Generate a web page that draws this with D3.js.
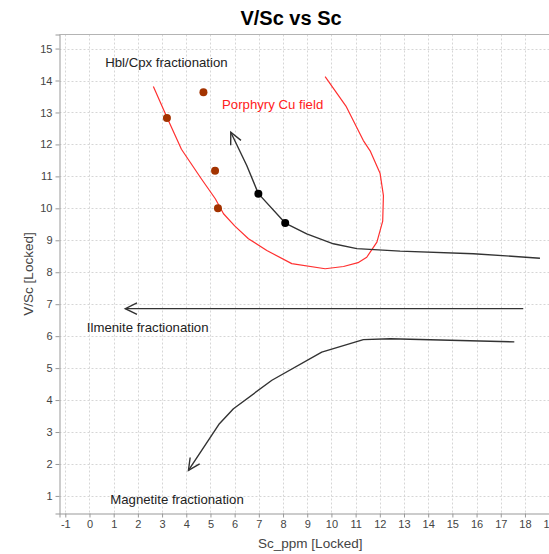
<!DOCTYPE html>
<html>
<head>
<meta charset="utf-8">
<script src="https://cdn.jsdelivr.net/npm/d3@7"></script>
<style>
  html, body { margin: 0; padding: 0; background: #fff; }
  svg { display: block; font-family: "Liberation Sans", Arial, sans-serif; }
</style>
</head>
<body>
<svg id="chart" width="549" height="554"></svg>
<script>
// Axis ticks
const xTicks = [-1, 0, 1, 2, 3, 4, 5, 6, 7, 8, 9, 10, 11, 12, 13, 14, 15, 16, 17, 18, 19];
const yTicks = [1, 2, 3, 4, 5, 6, 7, 8, 9, 10, 11, 12, 13, 14, 15];

// Porphyry Cu field outline (Sc, V/Sc)
const porphyryX = [2.64, 3.2, 3.8, 4.6, 5.2, 5.54, 6.0, 6.57, 7.33, 8.36, 9.74, 10.5, 11.1, 11.46, 11.88, 12.12, 12.15, 12.01, 11.6, 11.32, 10.6, 9.74];
const porphyryY = [13.81, 12.85, 11.85, 10.95, 10.3, 9.83, 9.45, 9.05, 8.68, 8.27, 8.11, 8.18, 8.3, 8.47, 8.94, 9.6, 10.4, 11.1, 11.8, 12.12, 13.2, 14.12];

// Hbl/Cpx fractionation trend (drawn from high Sc towards the arrow tip)
const hblX = [18.62, 15.87, 12.84, 11.05, 10.08, 8.98, 8.09, 6.98, 6.5, 5.84];
const hblY = [8.44, 8.58, 8.66, 8.74, 8.89, 9.2, 9.54, 10.46, 11.34, 12.38];

// Ilmenite fractionation trend
const ilmX = [17.93, 1.48];
const ilmY = [6.86, 6.86];

// Magnetite fractionation trend
const magX = [17.56, 12.43, 11.32, 9.6, 7.54, 5.95, 5.37, 4.09];
const magY = [5.82, 5.92, 5.89, 5.5, 4.62, 3.73, 3.26, 1.8];

// Samples
const blackX = [6.98, 8.09];
const blackY = [10.46, 9.54];
const brownX = [4.71, 3.2, 5.19, 5.31];
const brownY = [13.63, 12.83, 11.18, 10.0];

// Annotations (left edge, vertical centre in data units)
const noteText = ["Hbl/Cpx fractionation", "Porphyry Cu field", "Ilmenite fractionation", "Magnetite fractionation"];
const noteX = [0.65, 5.48, -0.11, 0.86];
const noteY = [14.56, 13.24, 6.27, 0.9];
const noteRed = [false, true, false, false];

const svg = d3.select("#chart");
const plot = { left: 59.5, top: 34.5, right: 561, bottom: 513.5 };

const x = d3.scaleLinear().domain([-1.24, 19.49]).range([plot.left, plot.right]);
const y = d3.scaleLinear().domain([0.45, 15.44]).range([plot.bottom, plot.top]);

// Title
svg.append("text")
  .attr("x", 291).attr("y", 25)
  .attr("text-anchor", "middle")
  .attr("font-size", 20).attr("font-weight", "bold")
  .attr("fill", "#000")
  .text("V/Sc vs Sc");

svg.append("defs").append("clipPath").attr("id", "plotclip")
  .append("rect")
  .attr("x", plot.left).attr("y", plot.top)
  .attr("width", plot.right - plot.left).attr("height", plot.bottom - plot.top);

// Grid
const grid = svg.append("g").attr("clip-path", "url(#plotclip)");
grid.selectAll("line.vx").data(xTicks).join("line")
  .attr("x1", d => Math.round(x(d)) + 0.5).attr("x2", d => Math.round(x(d)) + 0.5)
  .attr("y1", plot.top).attr("y2", plot.bottom)
  .attr("stroke", "#d6d6d6").attr("stroke-dasharray", "2,2").attr("stroke-width", 1);
grid.selectAll("line.hy").data(yTicks).join("line")
  .attr("y1", d => Math.round(y(d)) + 0.5).attr("y2", d => Math.round(y(d)) + 0.5)
  .attr("x1", plot.left).attr("x2", plot.right)
  .attr("stroke", "#d6d6d6").attr("stroke-dasharray", "2,2").attr("stroke-width", 1);

// Frame (top), axes
svg.append("line").attr("x1", plot.left).attr("x2", plot.right)
  .attr("y1", plot.top).attr("y2", plot.top).attr("stroke", "#b4b4b4");

const fmt = d => String(d);
const xAxis = d3.axisBottom(x).tickValues(xTicks).tickSize(4).tickPadding(3).tickFormat(fmt);
const gx = svg.append("g").attr("transform", `translate(0,${plot.bottom})`).call(xAxis);
const yAxis = d3.axisLeft(y).tickValues(yTicks).tickSize(4).tickPadding(3).tickFormat(fmt);
const gy = svg.append("g").attr("transform", `translate(${plot.left},0)`).call(yAxis);
[gx, gy].forEach(g => {
  g.select(".domain").attr("stroke", "#999");
  g.selectAll(".tick line").attr("stroke", "#999");
  g.selectAll(".tick text").attr("fill", "#444").attr("font-size", 11)
    .attr("font-family", "'Liberation Sans', Arial, sans-serif");
});

// Axis titles
svg.append("text")
  .attr("x", (plot.left + plot.right) / 2).attr("y", 548)
  .attr("text-anchor", "middle").attr("font-size", 13.5).attr("fill", "#444")
  .text("Sc_ppm [Locked]");
svg.append("text")
  .attr("transform", `translate(33,${(plot.top + plot.bottom) / 2}) rotate(-90)`)
  .attr("text-anchor", "middle").attr("font-size", 13.5).attr("fill", "#444")
  .text("V/Sc [Locked]");

const g = svg.append("g").attr("clip-path", "url(#plotclip)");
const line = d3.line().x(d => x(d[0])).y(d => y(d[1]));

// Porphyry field
g.append("path")
  .datum(d3.zip(porphyryX, porphyryY))
  .attr("d", line).attr("fill", "none")
  .attr("stroke", "#ff3030").attr("stroke-width", 1.2).attr("stroke-linejoin", "round");

// Trend arrows with open heads
function arrow(xs, ys) {
  const pts = d3.zip(xs, ys);
  g.append("path").datum(pts).attr("d", line).attr("fill", "none")
    .attr("stroke", "#333").attr("stroke-width", 1.4).attr("stroke-linejoin", "round");
  const n = pts.length;
  const tx = x(pts[n - 1][0]), ty = y(pts[n - 1][1]);
  const px = x(pts[n - 2][0]), py = y(pts[n - 2][1]);
  const ang = Math.atan2(py - ty, px - tx);
  const len = 13, spread = 26 * Math.PI / 180;
  const w1 = [tx + len * Math.cos(ang + spread), ty + len * Math.sin(ang + spread)];
  const w2 = [tx + len * Math.cos(ang - spread), ty + len * Math.sin(ang - spread)];
  g.append("path")
    .attr("d", `M${w1[0]},${w1[1]}L${tx},${ty}L${w2[0]},${w2[1]}`)
    .attr("fill", "none").attr("stroke", "#333").attr("stroke-width", 1.4);
}
arrow(hblX, hblY);
arrow(ilmX, ilmY);
arrow(magX, magY);

// Samples
g.selectAll("circle.brown").data(d3.zip(brownX, brownY)).join("circle")
  .attr("cx", d => x(d[0])).attr("cy", d => y(d[1])).attr("r", 4)
  .attr("fill", "#a33300");
g.selectAll("circle.black").data(d3.zip(blackX, blackY)).join("circle")
  .attr("cx", d => x(d[0])).attr("cy", d => y(d[1])).attr("r", 4)
  .attr("fill", "#000");

// Annotations
noteText.forEach((t, i) => {
  svg.append("text")
    .attr("x", x(noteX[i])).attr("y", y(noteY[i]))
    .attr("dy", "0.35em")
    .attr("font-size", 13.2)
    .attr("fill", noteRed[i] ? "#ff2020" : "#222")
    .text(t);
});
</script>
</body>
</html>
